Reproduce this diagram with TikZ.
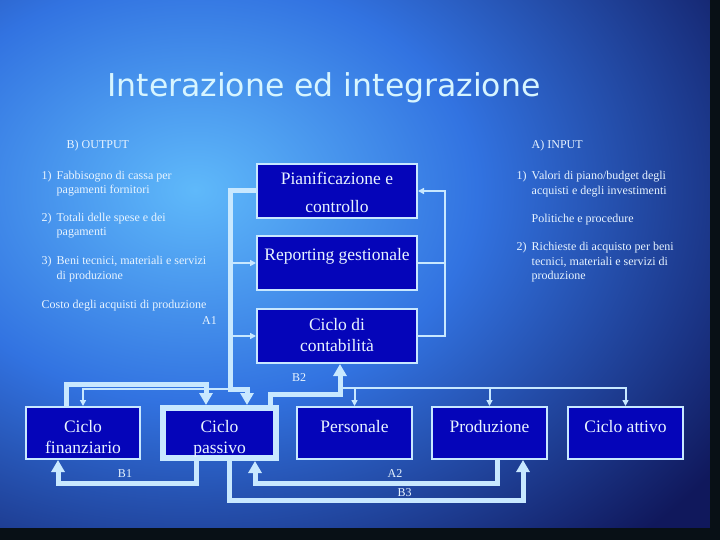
\documentclass[tikz,border=0pt]{standalone}
\usepackage{fontspec}
\setmainfont{Liberation Serif}
\newfontfamily\titlefont{DejaVu Sans}
\usetikzlibrary{arrows.meta,calc}
\definecolor{bgdark}{RGB}{16,24,92}
\definecolor{bgmid}{RGB}{50,115,225}
\definecolor{bglight}{RGB}{95,185,250}
\definecolor{edgedark}{RGB}{8,16,22}
\definecolor{boxblue}{RGB}{5,5,185}
\definecolor{linecol}{RGB}{200,232,255}
\definecolor{txtcol}{RGB}{232,244,255}
\definecolor{titlecol}{RGB}{215,245,255}
\pgfdeclareradialshading{glow}{\pgfpoint{0bp}{0bp}}{color(0bp)=(bglight); color(11bp)=(bgmid); color(25bp)=(bgdark); color(50bp)=(bgdark)}

\begin{document}
\begin{tikzpicture}[x=1pt, y=-1pt,
    box/.style={draw=linecol, line width=2pt, fill=boxblue, inner sep=0pt, minimum width=160pt, minimum height=54pt},
    sbox/.style={box, minimum width=115pt, minimum height=52pt},
    boxtxt/.style={anchor=base, inner sep=0pt, text=txtcol, font=\fontsize{17.5}{21}\selectfont},
    lst/.style={anchor=base west, inner sep=0pt, text=txtcol, font=\fontsize{12}{14.5}\selectfont},
    lbl/.style={anchor=base, inner sep=0pt, text=txtcol, font=\fontsize{12}{14}\selectfont},
    thk/.style={draw=linecol, line width=5pt, -{Triangle[width=13pt,length=12pt]}},
    thn/.style={draw=linecol, line width=2pt, -{Triangle[width=6pt,length=6pt]}},
    thnline/.style={draw=linecol, line width=2pt}
]
\useasboundingbox (0,0) rectangle (720,540);
\begin{scope}
    \clip (0,0) rectangle (720,540);
    \fill[bgdark] (0,0) rectangle (720,540);
    \shade[shading=glow] (195,190) ellipse (640 and 480);
    \fill[edgedark] (0,528) rectangle (720,540);
    \fill[edgedark] (710,0) rectangle (720,540);
\end{scope}

\node[anchor=base, inner sep=0pt, text=titlecol, font=\titlefont\fontsize{31.5}{36}\selectfont] (title) at (324,97) {Interazione ed integrazione};

\node[lst] (outh) at (66.5,149) {B) OUTPUT};
\node[lst] (out1) at (41.5,179.5) {\begin{tabular}[t]{@{}l@{\hspace{5pt}}l@{}}1) & Fabbisogno di cassa per\\ & pagamenti fornitori\end{tabular}};
\node[lst] (out2) at (41.5,221.5) {\begin{tabular}[t]{@{}l@{\hspace{5pt}}l@{}}2) & Totali delle spese e dei\\ & pagamenti\end{tabular}};
\node[lst] (out3) at (41.5,264.5) {\begin{tabular}[t]{@{}l@{\hspace{5pt}}l@{}}3) & Beni tecnici, materiali e servizi\\ & di produzione\end{tabular}};
\node[lst] (costo) at (41.5,308.5) {Costo degli acquisti di produzione};
\node[lbl] (a1) at (209.5,324) {A1};

\node[lst] (inh) at (531.5,149) {A) INPUT};
\node[lst] (in1) at (516.5,180) {\begin{tabular}[t]{@{}l@{\hspace{5pt}}l@{}}1) & Valori di piano/budget degli\\ & acquisti e degli investimenti\end{tabular}};
\node[lst] (pol) at (531.5,222.5) {Politiche e procedure};
\node[lst] (in2) at (516.5,250.5) {\begin{tabular}[t]{@{}l@{\hspace{5pt}}l@{}}2) & Richieste di acquisto per beni\\ & tecnici, materiali e servizi di\\ & produzione\end{tabular}};

\node[box] (pian) at (337,191) {};
\node[box] (report) at (337,263) {};
\node[box] (conta) at (337,336) {};
\node[sbox, minimum width=114pt] (fin) at (83,433) {};
\node[box, line width=6pt, minimum width=113pt, minimum height=50pt] (pass) at (219.5,433) {};
\node[sbox] (pers) at (354.5,433) {};
\node[sbox] (prod) at (489.5,433) {};
\node[sbox] (att) at (625.5,433) {};

\node[boxtxt] (pian-t) at (337,185) {\begin{tabular}[t]{@{}c@{}}Pianificazione e\\[6.5pt]controllo\end{tabular}};
\node[boxtxt] (report-t) at (337,260) {Reporting gestionale};
\node[boxtxt] (conta-t) at (337,330) {\begin{tabular}[t]{@{}c@{}}Ciclo di\\contabilità\end{tabular}};
\node[boxtxt] (fin-t) at (83,432) {\begin{tabular}[t]{@{}c@{}}Ciclo\\finanziario\end{tabular}};
\node[boxtxt] (pass-t) at (219.5,432) {\begin{tabular}[t]{@{}c@{}}Ciclo\\passivo\end{tabular}};
\node[boxtxt] (pers-t) at (354.5,432) {Personale};
\node[boxtxt] (prod-t) at (489.5,432) {Produzione};
\node[boxtxt] (att-t) at (625.5,432) {Ciclo attivo};

\coordinate (hub) at (230,389);
\draw[thk] (pian.west) -| (hub) -| ($(pass.north)+(27.5,0)$);
\draw[thn] (hub) -| (fin.north);
\draw[thn] (hub |- report.west) -- (report.west);
\draw[thn] (hub |- conta.west) -- (conta.west);

\coordinate (rbus) at (445,191);
\draw[thn] (conta.east) -| (rbus) -- (pian.east);
\draw[thnline] (report.east) -- (report.east -| rbus);

\coordinate (b2) at (340,394);
\draw[thk] ($(pass.north)+(50.5,0)$) |- (b2) -- (b2 |- conta.south);
\node[lbl] (b2l) at (299,381.5) {B2};

\coordinate (bus) at (340,388);
\draw[thn] (bus) -| (att.north);
\foreach \b in {pers,prod}
    \draw[thn] (bus -| \b.north) -- (\b.north);

\draw[thk] ($(fin.north)+(-17,0)$) |- ($(pass.north)+(-13.5,-21)$) -- ($(pass.north)+(-13.5,0)$);
\draw[thk] ($(pass.south)+(-23,0)$) -- ++(0,22) -| ($(fin.south)+(-25,0)$);
\draw[thk] ($(prod.south)+(7.5,0)$) -- ++(0,23) -| ($(pass.south)+(35.5,0)$);
\draw[thk] ($(pass.south)+(9.5,0)$) -- ++(0,39) -| ($(prod.south)+(33.5,0)$);

\node[lbl] (b1) at (125,477) {B1};
\node[lbl] (a2) at (395,477) {A2};
\node[lbl] (b3) at (404.5,496.5) {B3};
\end{tikzpicture}
\end{document}
